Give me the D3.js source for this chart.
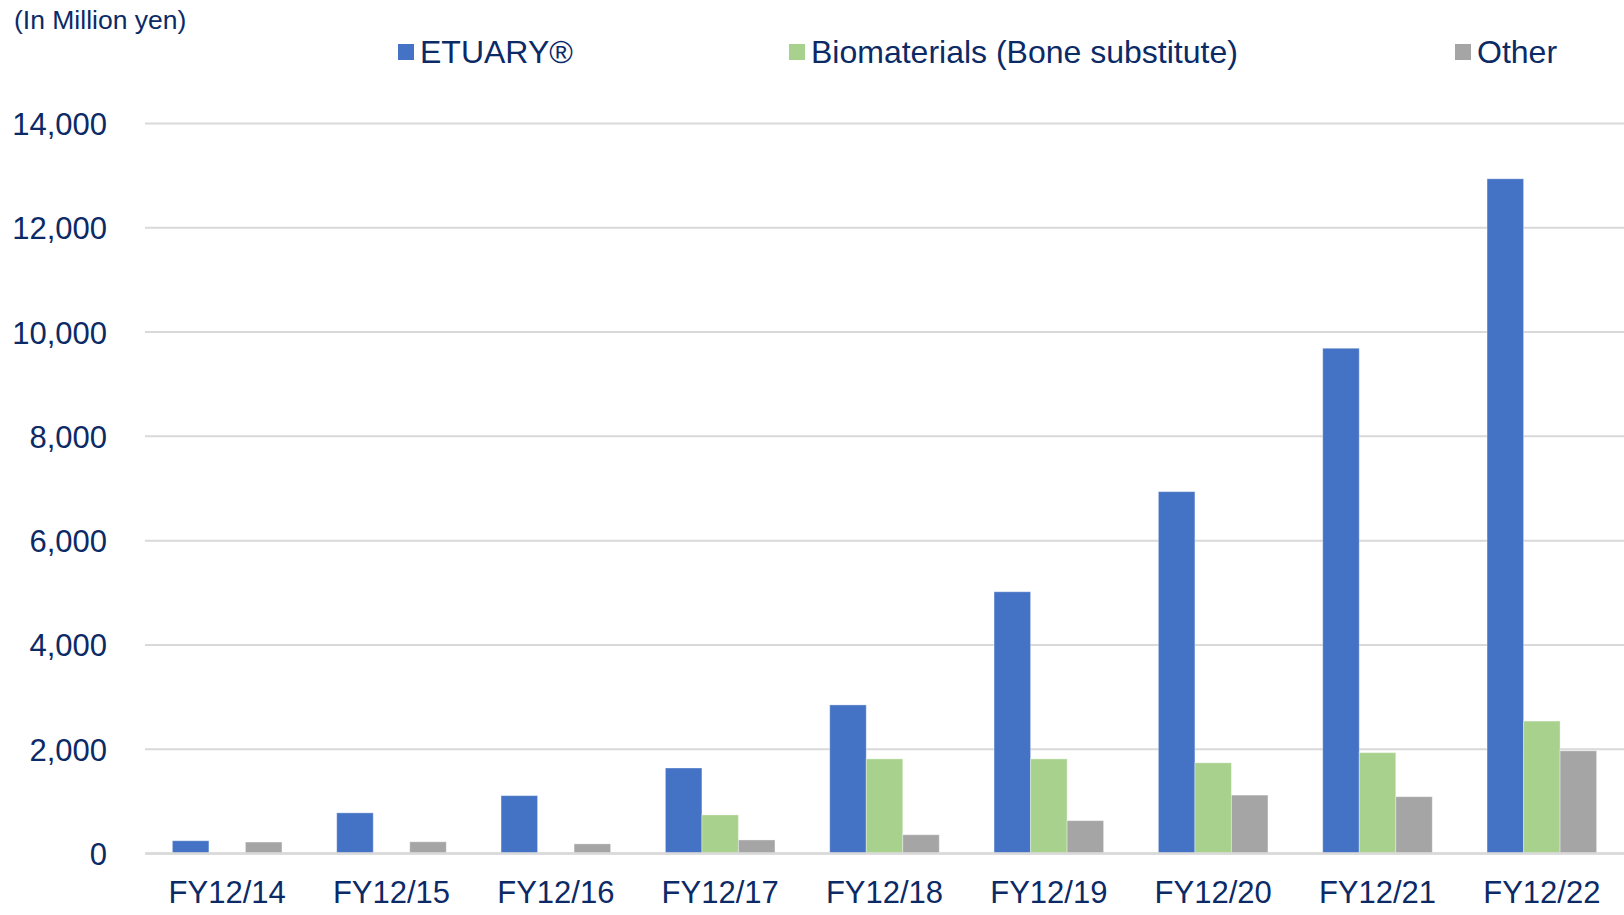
<!DOCTYPE html>
<html>
<head>
<meta charset="utf-8">
<script src="https://cdn.jsdelivr.net/npm/d3@7"></script>
<style>
  html, body { margin: 0; padding: 0; background: #fff; }
  svg { display: block; }
  text { font-family: "Liberation Sans", Arial, sans-serif; fill: #0B2A66; }
</style>
</head>
<body>
<svg id="chart" width="1624" height="915"></svg>
<script>
const categories = ["FY12/14", "FY12/15", "FY12/16", "FY12/17", "FY12/18", "FY12/19", "FY12/20", "FY12/21", "FY12/22"];
const seriesNames = ["ETUARY®", "Biomaterials (Bone substitute)", "Other"];
const etuary = [235, 770, 1100, 1630, 2840, 5010, 6930, 9680, 12930];
const biomaterials = [null, null, null, 730, 1805, 1805, 1730, 1925, 2530];
const other = [210, 215, 175, 250, 350, 620, 1110, 1080, 1960];
const yTicks = [0, 2000, 4000, 6000, 8000, 10000, 12000, 14000];
const unitLabel = "(In Million yen)";

const colors = ["#4472C4", "#A9D18E", "#A5A5A5"];
const seriesValues = [etuary, biomaterials, other];

const W = 1624, H = 915;
const margin = { top: 123, right: 0, bottom: 62, left: 145 };
const svg = d3.select("#chart");

const x = d3.scaleBand().domain(categories)
  .range([margin.left, W - margin.right])
  .paddingInner(1 / 3).paddingOuter(1 / 6);
const xs = d3.scaleBand().domain(d3.range(seriesNames.length))
  .range([0, x.bandwidth()]);
const y = d3.scaleLinear().domain([0, 14000]).range([H - margin.bottom, margin.top]);

// gridlines + y labels
const yAxis = svg.append("g")
  .attr("transform", `translate(${margin.left},0)`)
  .call(d3.axisLeft(y).tickValues(yTicks).tickFormat(d3.format(","))
    .tickSize(-(W - margin.left - margin.right)).tickPadding(38));
yAxis.select(".domain").remove();
yAxis.selectAll(".tick line").attr("stroke", "#D9D9D9").attr("stroke-width", 2);
yAxis.selectAll(".tick text")
  .style("font-family", "'Liberation Sans', Arial, sans-serif")
  .style("font-size", "31px").attr("fill", "#0B2A66").attr("dy", "0.37em");

// bars
const groups = svg.append("g").selectAll("g")
  .data(categories).join("g")
  .attr("transform", d => `translate(${x(d)},0)`);
groups.selectAll("rect")
  .data((d, i) => seriesValues.map((vals, s) => ({ s, v: vals[i] })).filter(e => e.v != null))
  .join("rect")
  .attr("x", d => xs(d.s))
  .attr("width", xs.bandwidth())
  .attr("y", d => y(d.v))
  .attr("height", d => y(0) - y(d.v))
  .attr("fill", d => colors[d.s])
  .attr("stroke", "#ffffff").attr("stroke-opacity", 0.35).attr("stroke-width", 1);

// x axis
const xAxis = svg.append("g")
  .attr("transform", `translate(0,${y(0)})`)
  .call(d3.axisBottom(x).tickSize(0).tickPadding(28));
xAxis.select(".domain").attr("stroke", "#D9D9D9").attr("stroke-width", 2.5);
xAxis.selectAll(".tick text")
  .style("font-family", "'Liberation Sans', Arial, sans-serif")
  .style("font-size", "31px").attr("fill", "#0B2A66");

// unit label
svg.append("text").attr("x", 14).attr("y", 29)
  .style("font-size", "26.5px").text(unitLabel);

// legend
const legendX = [398, 789, 1455];
const leg = svg.append("g").selectAll("g").data(seriesNames).join("g")
  .attr("transform", (d, i) => `translate(${legendX[i]},52)`);
leg.append("rect").attr("x", 0).attr("y", -8).attr("width", 16).attr("height", 16)
  .attr("fill", (d, i) => colors[i]);
leg.append("text").attr("x", 22).attr("y", 11)
  .style("font-size", "32px").text(d => d);
</script>
</body>
</html>
